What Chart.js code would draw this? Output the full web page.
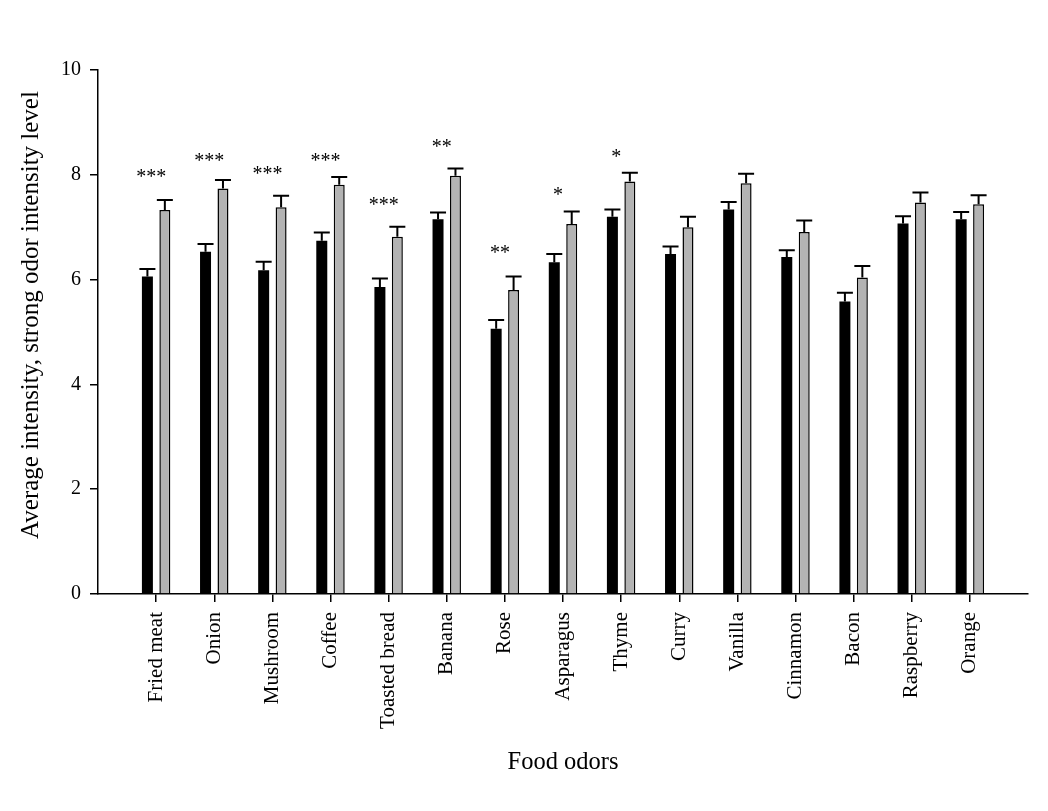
<!DOCTYPE html>
<html>
<head>
<meta charset="utf-8">
<title>Food odors</title>
<script src="https://cdn.jsdelivr.net/npm/chart.js@4.4.1/dist/chart.umd.min.js"></script>
<style>
  html, body { margin: 0; padding: 0; background: #fff; }
  canvas { display: block; }
</style>
</head>
<body>
<canvas id="odorChart" width="1048" height="811"></canvas>
<script>
// values
const odors = ['Fried meat', 'Onion', 'Mushroom', 'Coffee', 'Toasted bread', 'Banana', 'Rose',
    'Asparagus', 'Thyme', 'Curry', 'Vanilla', 'Cinnamon', 'Bacon', 'Raspberry', 'Orange'];

// black bars: average intensity
const avgIntensity = [6.06, 6.53, 6.18, 6.74, 5.86, 7.15, 5.06, 6.33, 7.20, 6.49, 7.34, 6.43, 5.58, 7.07, 7.15];
const avgError     = [0.14, 0.15, 0.16, 0.16, 0.16, 0.13, 0.17, 0.16, 0.14, 0.14, 0.14, 0.13, 0.17, 0.14, 0.14];

// grey bars: strong odor intensity level
const strongIntensity = [7.33, 7.74, 7.38, 7.81, 6.82, 7.98, 5.80, 7.06, 7.87, 7.00, 7.84, 6.91, 6.04, 7.47, 7.44];
const strongError     = [0.19, 0.16, 0.22, 0.15, 0.19, 0.14, 0.26, 0.24, 0.17, 0.20, 0.18, 0.22, 0.22, 0.19, 0.17];

// significance marks and the level they sit at
const stars     = ['***', '***', '***', '***', '***', '**', '**', '*', '*', '', '', '', '', '', ''];
const starLevel = [8.0, 8.30, 8.05, 8.30, 7.46, 8.57, 6.56, 7.65, 8.38, null, null, null, null, null, null];

const yMin = 0, yMax = 10, yStep = 2;

// empty slots at both ends so the axis runs one category past the first and last bar
const labels = [''].concat(odors, ['']);
const pad = arr => [null].concat(arr, [null]);

const FONT = '"Liberation Serif", "Times New Roman", serif';
Chart.defaults.font.family = FONT;
Chart.defaults.font.size = 20;
Chart.defaults.color = '#000';

const errorBars = {
    id: 'errorBars',
    afterDatasetsDraw(chart) {
        const ctx = chart.ctx;
        const yScale = chart.scales.y;
        const xScale = chart.scales.x;
        ctx.save();
        ctx.strokeStyle = '#000';
        ctx.lineWidth = 2;
        chart.data.datasets.forEach((ds, di) => {
            const meta = chart.getDatasetMeta(di);
            meta.data.forEach((bar, i) => {
                const err = ds.errors[i];
                if (err == null || ds.data[i] == null) return;
                const top = yScale.getPixelForValue(ds.data[i] + err);
                ctx.beginPath();
                ctx.moveTo(bar.x, bar.y);
                ctx.lineTo(bar.x, top);
                ctx.moveTo(bar.x - 8, top);
                ctx.lineTo(bar.x + 8, top);
                ctx.stroke();
            });
        });

        // stars
        ctx.fillStyle = '#000';
        ctx.font = '20px ' + FONT;
        ctx.textAlign = 'center';
        ctx.textBaseline = 'middle';
        stars.forEach((s, i) => {
            if (!s) return;
            const x = xScale.getPixelForValue(i + 1) - 5;
            const y = yScale.getPixelForValue(starLevel[i]) + 3;
            ctx.fillText(s, x, y);
        });

        // y axis title
        const area = chart.chartArea;
        ctx.font = '25px ' + FONT;
        ctx.textBaseline = 'alphabetic';
        ctx.translate(38, (area.top + area.bottom) / 2 - 17);
        ctx.rotate(-Math.PI / 2);
        ctx.fillText('Average intensity, strong odor intensity level', 0, 0);
        ctx.restore();
    }
};

const edgeTick = c => (c.index === 0 || c.index === labels.length - 1) ? 'rgba(0,0,0,0)' : '#000';

new Chart(document.getElementById('odorChart'), {
    type: 'bar',
    data: {
        labels: labels,
        datasets: [{
            label: 'Average intensity',
            data: pad(avgIntensity),
            errors: pad(avgError),
            backgroundColor: '#000',
            borderColor: '#000',
            borderWidth: 0
        }, {
            label: 'Strong odor intensity level',
            data: pad(strongIntensity),
            errors: pad(strongError),
            backgroundColor: '#b3b3b3',
            borderColor: '#000',
            borderWidth: 1.5
        }]
    },
    options: {
        responsive: false,
        animation: false,
        categoryPercentage: 0.6,
        barPercentage: 0.63,
        layout: { padding: { top: 70, right: 20, bottom: 0, left: 0 } },
        plugins: {
            legend: { display: false },
            tooltip: { enabled: false }
        },
        scales: {
            x: {
                type: 'category',
                offset: false,
                grid: {
                    offset: false,
                    drawOnChartArea: false,
                    drawTicks: true,
                    tickLength: 8,
                    lineWidth: 1.5,
                    color: edgeTick
                },
                border: { color: '#000', width: 1.5 },
                ticks: { autoSkip: false, minRotation: 90, maxRotation: 90, padding: 10, font: { size: 21 } },
                title: {
                    display: true,
                    text: 'Food odors',
                    font: { size: 24.5 },
                    padding: { top: 0, bottom: 34 }
                },
                afterFit(scale) {
                    scale.height = 217;
                    scale.paddingLeft = 0;
                    scale.paddingRight = 0;
                }
            },
            y: {
                min: yMin,
                max: yMax,
                ticks: { stepSize: yStep, padding: 9 },
                grid: {
                    drawOnChartArea: false,
                    tickLength: 8,
                    lineWidth: 1.5,
                    color: '#000'
                },
                border: { color: '#000', width: 1.5 },
                afterFit(scale) { scale.width = 98; }
            }
        }
    },
    plugins: [errorBars]
});
</script>
</body>
</html>
